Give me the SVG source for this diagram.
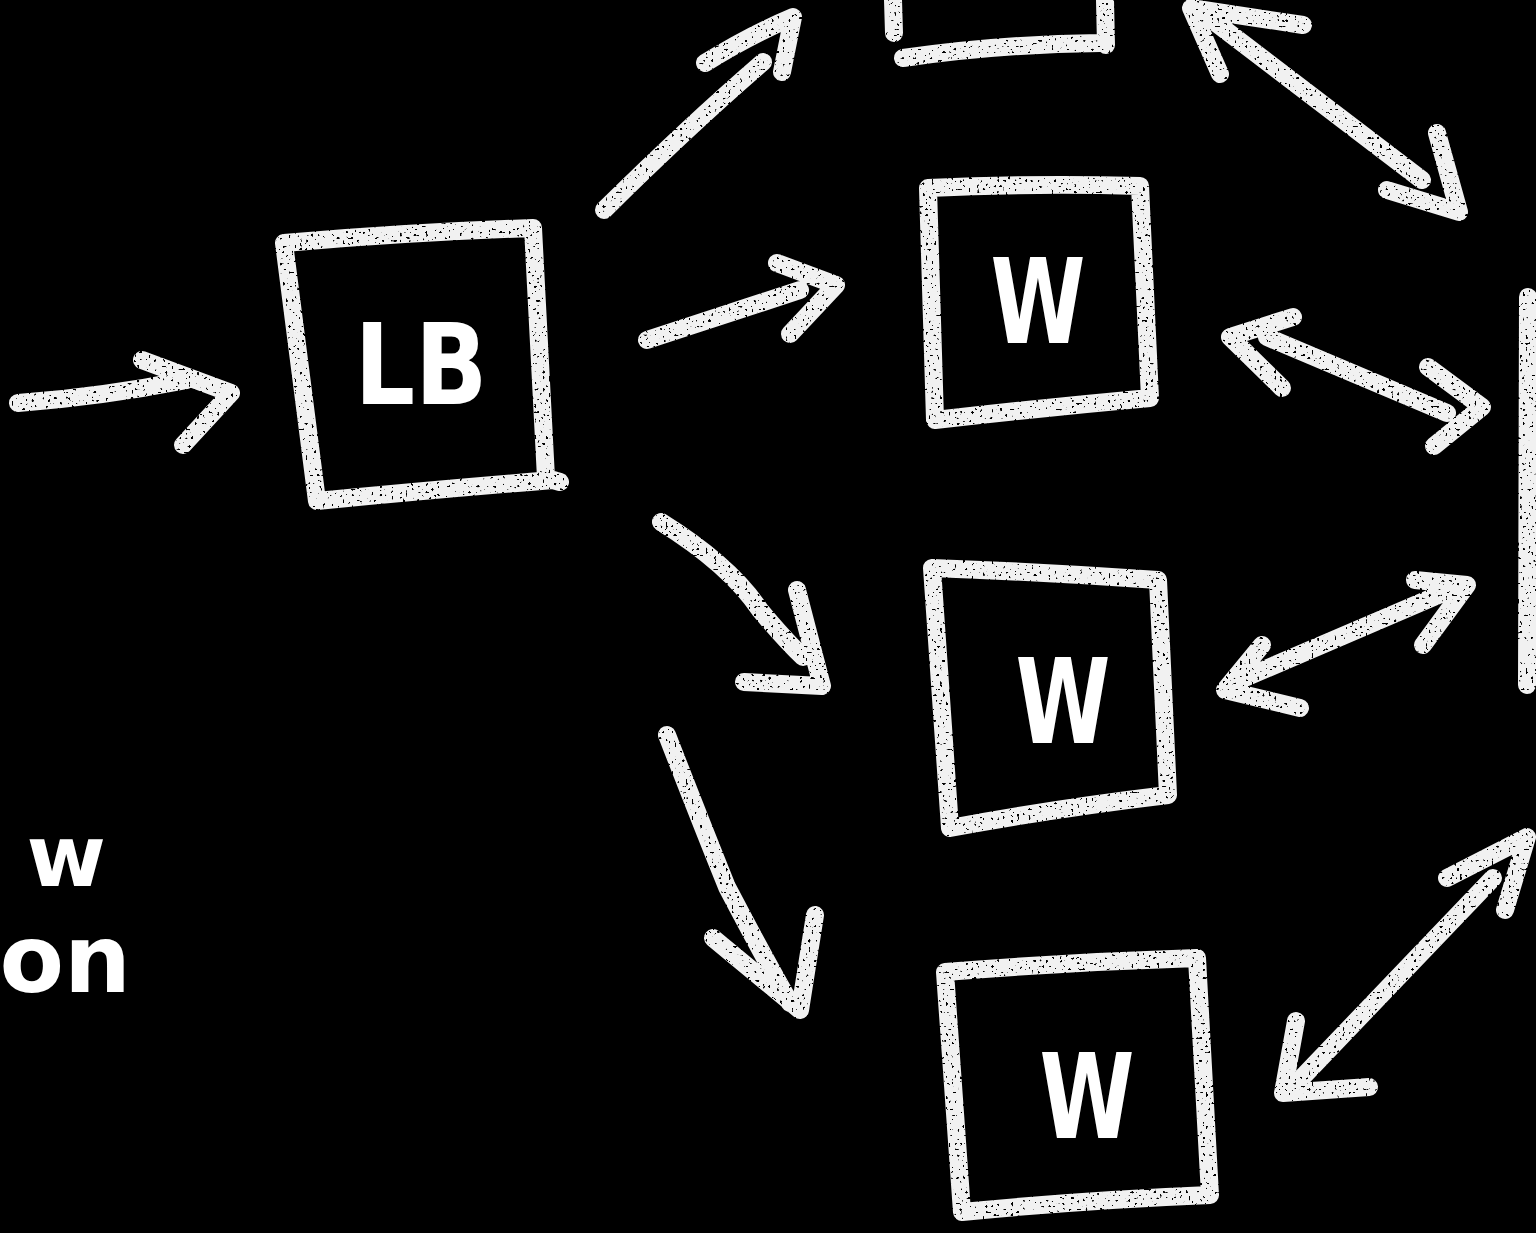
<svg xmlns="http://www.w3.org/2000/svg" width="1536" height="1233" viewBox="0 0 1536 1233">
<style>
.chalk{fill:none;stroke:#f1f1f1;stroke-width:18;stroke-linecap:round;stroke-linejoin:round}
.lbl{fill:#ffffff;font-family:"DejaVu Sans","Liberation Sans",sans-serif;font-weight:bold;text-anchor:middle}
.note{fill:#ffffff;font-family:"DejaVu Sans","Liberation Sans",sans-serif;font-weight:bold;text-anchor:end}
</style>
<defs>
<filter id="chalkfx" filterUnits="userSpaceOnUse" x="0" y="0" width="1536" height="1233">
<feTurbulence type="fractalNoise" baseFrequency="0.35" numOctaves="1" seed="7" result="n"/>
<feColorMatrix in="n" type="matrix" values="0 0 0 0 0  0 0 0 0 0  0 0 0 0 0  0 0 0 -25 17.5" result="holes"/>
<feComposite in="SourceGraphic" in2="holes" operator="in"/>
</filter>
</defs>
<rect x="0" y="0" width="1536" height="1233" fill="#000000"/>
<g id="node-top">
<path class="chalk" filter="url(#chalkfx)" d="M893,0 L894,33 M903,58 Q1000,44 1100,43 M1105,0 L1106,45"/>
</g>
<g id="node-lb">
<path class="chalk" filter="url(#chalkfx)" d="M284,243 Q410,232 533,228 L546,478 L560,482 M553,480 Q430,490 317,501 L284,243"/>
<text class="lbl" x="421" y="404" font-size="112" textLength="133" lengthAdjust="spacingAndGlyphs">LB</text>
</g>
<g id="node-w1">
<path class="chalk" filter="url(#chalkfx)" d="M928,188 Q1035,183 1140,186 L1150,398 Q1040,408 935,420 Z"/>
<text class="lbl" x="1038" y="343" font-size="118" textLength="95" lengthAdjust="spacingAndGlyphs">W</text>
</g>
<g id="node-w2">
<path class="chalk" filter="url(#chalkfx)" d="M932,568 Q1045,572 1158,580 L1168,795 Q1058,808 950,828 Z"/>
<text class="lbl" x="1063" y="743" font-size="118" textLength="95" lengthAdjust="spacingAndGlyphs">W</text>
</g>
<g id="node-w3">
<path class="chalk" filter="url(#chalkfx)" d="M945,972 Q1070,962 1197,958 L1210,1195 Q1085,1200 962,1212 Z"/>
<text class="lbl" x="1087" y="1138" font-size="118" textLength="95" lengthAdjust="spacingAndGlyphs">W</text>
</g>
<g id="node-right">
<path class="chalk" filter="url(#chalkfx)" d="M1528,297 L1527,685"/>
</g>
<g id="note">
<text class="note" x="106" y="886" font-size="86">w</text>
<text class="note" x="131" y="992" font-size="94">on</text>
</g>
<g id="connectors" filter="url(#chalkfx)">
<path class="chalk" d="M18,403 Q100,397 187,380 M142,360 L231,393 L183,445"/>
<path class="chalk" d="M604,210 Q690,125 763,62 M705,63 Q750,35 793,17 L782,72"/>
<path class="chalk" d="M647,340 L800,290 M777,263 L836,285 L790,334"/>
<path class="chalk" d="M661,522 Q730,565 760,610 Q785,640 803,657 M797,590 L822,686 L744,682"/>
<path class="chalk" d="M667,735 Q700,820 727,887 Q760,950 790,1003 M713,938 L800,1010 L815,915"/>
<path class="chalk" d="M1203,13 L1422,180 M1303,25 L1191,8 L1220,74 M1437,133 L1459,212 L1387,190"/>
<path class="chalk" d="M1267,337 L1447,413 M1293,317 L1230,337 L1282,388 M1428,367 L1482,407 L1434,446"/>
<path class="chalk" d="M1240,680 L1450,590 M1262,645 L1225,690 L1300,708 M1415,580 L1467,585 L1423,645"/>
<path class="chalk" d="M1293,1087 L1493,878 M1296,1021 L1283,1093 L1369,1087 M1447,878 L1527,837 L1505,910"/>
</g>
</svg>
